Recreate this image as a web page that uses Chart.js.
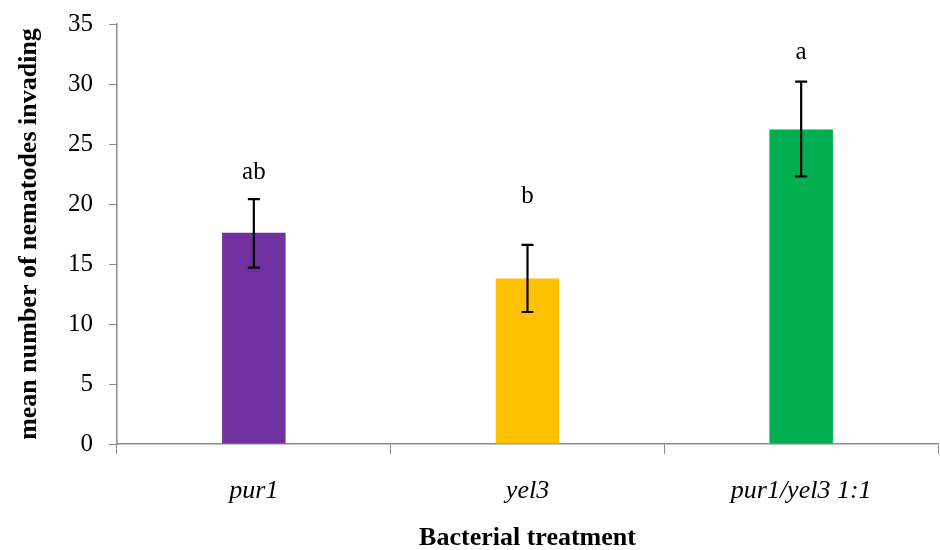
<!DOCTYPE html>
<html>
<head>
<meta charset="utf-8">
<script src="https://cdn.jsdelivr.net/npm/chart.js@4/dist/chart.umd.min.js"></script>
<style>
  html, body { margin: 0; padding: 0; background: #fff; }
  #wrap { width: 940px; height: 550px; }
</style>
</head>
<body>
<div id="wrap"><canvas id="chartNematodes" width="940" height="550"></canvas></div>
<script>
// --- datos ---
const treatments = ["pur1", "yel3", "pur1/yel3 1:1"];
const meanInvading = [17.6, 13.8, 26.2];
const errLow = [14.7, 11.0, 22.3];
const errHigh = [20.4, 16.6, 30.2];
const letters = ["ab", "b", "a"];
const letterAt = [22.6, 20.6, 32.6];
const barColors = ["#7030a0", "#ffc000", "#00b050"];
const yTicks = [0, 5, 10, 15, 20, 25, 30, 35];

const SERIF = "'Liberation Serif', 'Times New Roman', serif";
const AXIS_GREY = "#8c8c8c";

// --- barras de error + letras de significancia ---
const errorBarsPlugin = {
  id: "errorBars",
  afterDatasetsDraw(chart) {
    const { ctx, scales } = chart;
    const meta = chart.getDatasetMeta(0);
    ctx.save();
    meta.data.forEach((bar, i) => {
      const x = bar.x;
      const yTop = scales.y.getPixelForValue(errHigh[i]);
      const yBot = scales.y.getPixelForValue(errLow[i]);
      ctx.strokeStyle = "#000";
      ctx.lineWidth = 2.2;
      ctx.beginPath();
      ctx.moveTo(x, yTop);
      ctx.lineTo(x, yBot);
      ctx.moveTo(x - 6, yTop);
      ctx.lineTo(x + 6, yTop);
      ctx.moveTo(x - 6, yBot);
      ctx.lineTo(x + 6, yBot);
      ctx.stroke();

      ctx.fillStyle = "#000";
      ctx.font = "25px " + SERIF;
      ctx.textAlign = "center";
      ctx.textBaseline = "middle";
      ctx.fillText(letters[i], x, scales.y.getPixelForValue(letterAt[i]));
    });
    ctx.restore();
  },
};

new Chart(document.getElementById("chartNematodes"), {
  type: "bar",
  data: {
    labels: treatments,
    datasets: [
      {
        data: meanInvading,
        backgroundColor: barColors,
        borderWidth: 0,
        categoryPercentage: 1,
        barPercentage: 0.232,
      },
    ],
  },
  options: {
    responsive: false,
    animation: false,
    layout: { padding: { top: 24, right: 2, left: 0, bottom: 0 } },
    plugins: { legend: { display: false }, tooltip: { enabled: false } },
    scales: {
      x: {
        grid: {
          offset: true,
          drawOnChartArea: false,
          drawTicks: true,
          tickLength: 10,
          color: AXIS_GREY,
        },
        border: { color: AXIS_GREY, width: 1.5 },
        ticks: {
          color: "#000",
          padding: 22,
          font: { family: SERIF, size: 26, style: "italic" },
        },
        title: {
          display: true,
          text: "Bacterial treatment",
          color: "#000",
          font: { family: SERIF, size: 26, weight: "bold", lineHeight: 0.9 },
          padding: { top: 24, bottom: 0 },
        },
        afterFit(scale) {
          scale.height = 106;
          scale.paddingLeft = 0;
          scale.paddingRight = 0;
        },
      },
      y: {
        min: 0,
        max: 35,
        afterBuildTicks(scale) {
          scale.ticks = yTicks.map((v) => ({ value: v }));
        },
        grid: {
          drawOnChartArea: false,
          drawTicks: true,
          tickLength: 8,
          color: AXIS_GREY,
        },
        border: { color: AXIS_GREY, width: 1.5 },
        ticks: {
          color: "#000",
          padding: 16,
          font: { family: SERIF, size: 25 },
        },
        title: {
          display: true,
          text: "mean number of nematodes invading",
          color: "#000",
          font: { family: SERIF, size: 26, weight: "bold" },
          padding: { top: 14, bottom: 10 },
        },
        afterFit(scale) {
          scale.width = 117;
          scale.paddingTop = 0;
          scale.paddingBottom = 0;
        },
      },
    },
  },
  plugins: [errorBarsPlugin],
});
</script>
</body>
</html>
